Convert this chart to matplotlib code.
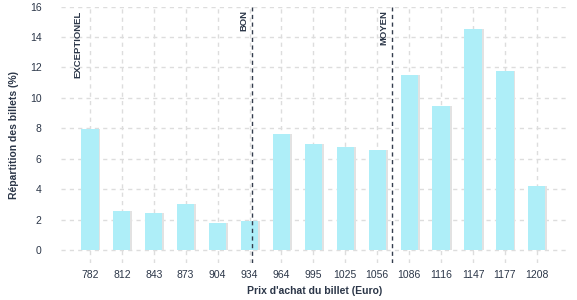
import matplotlib.pyplot as plt
import numpy as np

# data
prices = ['782', '812', '843', '873', '904', '934', '964', '995', '1025',
          '1056', '1086', '1116', '1147', '1177', '1208']
shares = [7.93, 2.56, 2.43, 3.0, 1.77, 1.9, 7.6, 6.95, 6.75,
          6.6, 11.5, 9.5, 14.56, 11.8, 4.2]
threshold_labels = ['EXCEPTIONEL', 'BON', 'MOYEN']
threshold_pos = [-0.12, 5.09, 9.47]   # in category units
threshold_lines = [False, True, True]

plt.rcParams['font.family'] = ['Liberation Sans', 'DejaVu Sans']
text_color = '#2b3648'

fig = plt.figure(figsize=(5.77, 3.0), dpi=100)
ax = fig.add_axes([0.106, 0.123, 0.877, 0.855])

x = np.arange(len(prices))
# soft shadow behind each bar
ax.bar(x + 0.06, shares, width=0.54, color='#e2e2e2', zorder=2)
ax.bar(x, shares, width=0.54, color='#aeeef8', zorder=3)

for lab, pos, draw in zip(threshold_labels, threshold_pos, threshold_lines):
    if draw:
        ax.axvline(pos, color='#333d4d', lw=1, ls=(0, (3, 2.5)), zorder=4)
    ax.text(pos - 0.12, 15.75, lab, rotation=90, ha='right', va='top',
            fontsize=6.8, fontweight='bold', color=text_color, zorder=5)

ax.set_xlim(-0.9, 14.95)
ax.set_ylim(-0.85, 16)
ax.set_yticks(np.arange(0, 17, 2))
ax.set_xticks(x)
ax.set_xticklabels(prices)
ax.grid(True, color='#dddddd', ls=(0, (3, 3)), lw=1, zorder=0)
ax.set_axisbelow(True)
for s in ax.spines.values():
    s.set_visible(False)
ax.tick_params(length=0, labelsize=7.5, colors=text_color)
ax.tick_params(axis='x', pad=5)
ax.tick_params(axis='y', pad=14)

ax.set_xlabel("Prix d'achat du billet (Euro)", fontsize=7.5,
              fontweight='bold', color=text_color, labelpad=4)
ax.set_ylabel('Répartition des billets (%)', fontsize=7.5,
              fontweight='bold', color=text_color, labelpad=8)

fig.savefig('out.png', dpi=100)
